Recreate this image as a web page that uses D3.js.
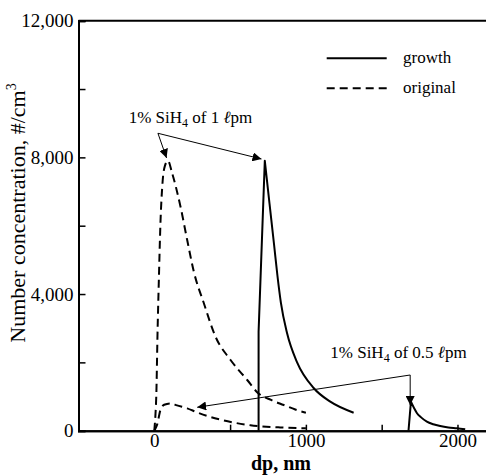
<!DOCTYPE html>
<html>
<head>
<meta charset="utf-8">
<script src="https://cdn.jsdelivr.net/npm/d3@7"></script>
<style>
  body { margin: 0; background: #fff; }
</style>
</head>
<body>
<div id="chart"></div>
<script>
// data: [dp (nm), number concentration (#/cm3)]
const originalHigh = [[0,0],[8,500],[13,1000],[22,3000],[30,4400],[40,6000],[55,7300],[70,7750],[90,7900],[118,7530],[173,6555],[217,5580],[261,4650],[327,3730],[404,2750],[503,2070],[613,1484],[680,1120],[770,900],[854,752],[930,620],[1000,527]]
const originalLow = [[0,0],[10,80],[20,200],[40,600],[65,760],[107,800],[150,740],[217,655],[280,540],[349,430],[430,330],[522,240],[634,160],[700,130],[830,95],[1000,70]]
const growthHighRise = [[688,0],[688,2900],[729,7900]]
const growthHighDecay = [[729,7900],[760,6650],[790,5450],[812,4550],[835,3750],[876,2850],[942,2000],[1051,1250],[1161,850],[1315,527]]
const growthLowRise = [[1677,0],[1693,850]]
const growthLowDecay = [[1693,850],[1715,650],[1733,510],[1760,390],[1798,265],[1840,190],[1886,137],[1940,95],[1996,70],[2051,40]]

const xMajor = [0, 1000, 2000]
const xMinor = [500, 1500]
const yMajor = [0, 4000, 8000, 12000]
const yMinor = [2000, 6000, 10000]

// annotations in data units: text anchor, elbow point, arrow tips
const note1 = { text: [-169, 9014], elbow: [24, 8705], tips: [[81, 7982], [707, 7952]], flow: "1" }
const note2 = { text: [1161, 2119], elbow: [1688, 1630], tips: [[1688, 752], [283, 685]], flow: "0.5" }

const legendItems = [["growth", null], ["original", "8,5"]]

const FONT = '"Liberation Serif", "Times New Roman", Tinos, "DejaVu Serif", serif'
const width = 486, height = 475
const x = d3.scaleLinear().domain([-500, 2200]).range([78.5, 487.8])
const y = d3.scaleLinear().domain([0, 12000]).range([430.7, 20.7])

let svg = d3.select('#chart')
    .append('svg')
    .attr('width', width)
    .attr('height', height)
    .attr('font-family', FONT)
    .style('display', 'block')

svg.append('defs').append('marker')
    .attr('id', 'arrow')
    .attr('viewBox', '0 0 10 10')
    .attr('refX', 10)
    .attr('refY', 5)
    .attr('markerWidth', 9)
    .attr('markerHeight', 9)
    .attr('markerUnits', 'userSpaceOnUse')
    .attr('orient', 'auto')
    .append('path')
    .attr('d', 'M0,0 L10,5 L0,10 Z')
    .attr('fill', '#000')

// axes: ticks point into the plot
let xAxis = svg.append('g')
    .attr('transform', `translate(0,${y(0)})`)
    .call(d3.axisBottom(x).tickValues(xMajor).tickSize(-6).tickPadding(3).tickFormat(d3.format('d')))
xAxis.append('g').call(d3.axisBottom(x).tickValues(xMinor).tickSize(-6).tickFormat(''))

let yAxis = svg.append('g')
    .attr('transform', `translate(${x(-500)},0)`)
    .call(d3.axisLeft(y).tickValues(yMajor).tickSize(-7).tickPadding(5).tickFormat(d3.format(',')))
yAxis.append('g').call(d3.axisLeft(y).tickValues(yMinor).tickSize(-7).tickFormat(''))

svg.selectAll('g').attr('font-family', FONT)
svg.selectAll('.domain').attr('stroke-width', 2)
svg.selectAll('.tick line').attr('stroke-width', 1.5)
svg.selectAll('.tick text')
    .attr('font-size', 19)
    .attr('fill', '#000')

// top frame
svg.append('line')
    .attr('x1', x(-500)).attr('x2', x(2200))
    .attr('y1', y(12000)).attr('y2', y(12000))
    .attr('stroke', '#000').attr('stroke-width', 2)

// curves: straight rise, smooth decay
let smooth = d3.line().x(d => x(d[0])).y(d => y(d[1])).curve(d3.curveMonotoneX)
let straight = d3.line().x(d => x(d[0])).y(d => y(d[1]))

let series = [
    { d: smooth(originalHigh), dash: '8,5' },
    { d: smooth(originalLow), dash: '8,5' },
    { d: straight(growthHighRise) + smooth(growthHighDecay).replace(/^M/, 'L'), dash: null },
    { d: straight(growthLowRise) + smooth(growthLowDecay).replace(/^M/, 'L'), dash: null }
]
series.forEach(s => {
    svg.append('path')
        .attr('d', s.d)
        .attr('fill', 'none')
        .attr('stroke', '#000')
        .attr('stroke-width', 2)
        .attr('stroke-linejoin', 'round')
        .attr('stroke-dasharray', s.dash)
})

// annotations
;[note1, note2].forEach(n => {
    n.tips.forEach(t => {
        svg.append('line')
            .attr('x1', x(n.elbow[0])).attr('y1', y(n.elbow[1]))
            .attr('x2', x(t[0])).attr('y2', y(t[1]))
            .attr('stroke', '#000').attr('stroke-width', 1)
            .attr('marker-end', 'url(#arrow)')
    })
    let txt = svg.append('text')
        .attr('x', x(n.text[0])).attr('y', y(n.text[1]))
        .attr('font-size', 17)
    txt.append('tspan').text('1% SiH')
    txt.append('tspan').attr('font-size', 12).attr('dy', 4).text('4')
    txt.append('tspan').attr('dy', -4).text(` of ${n.flow} `)
    txt.append('tspan').attr('font-style', 'italic').text('ℓ')
    txt.append('tspan').text('pm')
})

// legend
legendItems.forEach((d, i) => {
    let ly = 58.3 + i * 30
    svg.append('line')
        .attr('x1', 326.7).attr('x2', 386.7)
        .attr('y1', ly).attr('y2', ly)
        .attr('stroke', '#000').attr('stroke-width', 2)
        .attr('stroke-dasharray', d[1])
    svg.append('text')
        .attr('x', 403).attr('y', ly + 5)
        .attr('font-size', 17)
        .text(d[0])
})

// axis titles
svg.append('text')
    .attr('x', 281).attr('y', 470)
    .attr('text-anchor', 'middle')
    .attr('font-size', 20)
    .attr('font-weight', 'bold')
    .text('dp, nm')

let yl = svg.append('text')
    .attr('transform', 'translate(25,213) rotate(-90)')
    .attr('text-anchor', 'middle')
    .attr('font-size', 22)
yl.append('tspan').text('Number concentration, #/cm')
yl.append('tspan').attr('font-size', 14).attr('dy', -9).text('3')
</script>
</body>
</html>
